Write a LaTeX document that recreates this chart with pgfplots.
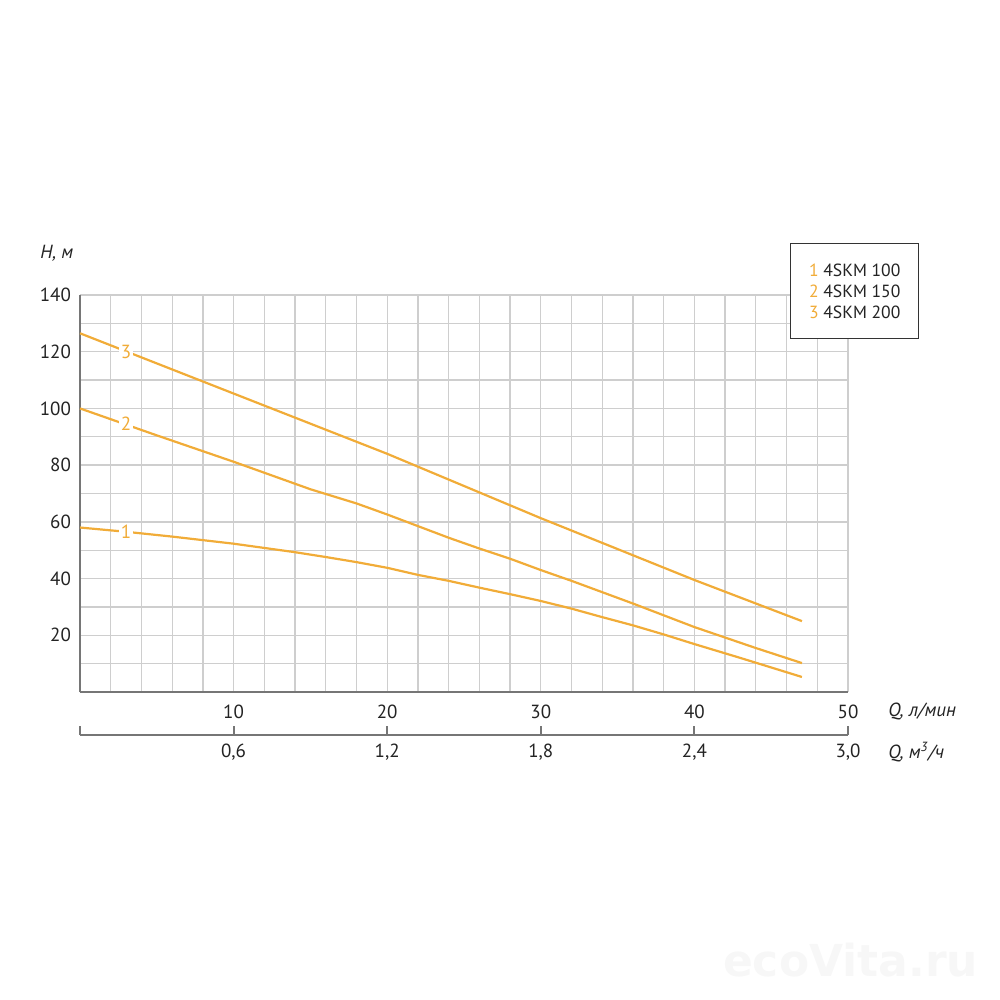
\documentclass[border=0pt]{standalone}
\usepackage{pgfplots}
\pgfplotsset{compat=1.18}
\usepackage{fontspec}
\setmainfont{PT Sans}
\newfontfamily\wmfont{DejaVu Sans}
\definecolor{curve}{RGB}{241,172,56}
\definecolor{gridgray}{RGB}{206,206,206}
\definecolor{axisgray}{RGB}{118,118,118}
\definecolor{textgray}{RGB}{35,35,35}
\begin{document}
\begin{tikzpicture}
\path (-40pt,-154pt) rectangle (460pt,346pt);
\begin{axis}[
  at={(0,0)}, anchor=south west,
  scale only axis, width=384pt, height=198.5pt,
  xmin=0, xmax=50, ymin=0, ymax=140,
  axis lines=left,
  axis line style={-, draw=axisgray, line width=1pt},
  xtick={10,20,30,40,50}, minor xtick={0,2,...,50},
  ytick={20,40,...,140}, minor ytick={0,10,...,140},
  grid=both,
  major grid style={draw=gridgray, line width=0.65pt},
  minor grid style={draw=gridgray, line width=0.65pt},
  major tick length=0pt, minor tick length=0pt,
  tick label style={font=\fontsize{9.5}{11}\selectfont, text=textgray},
  /pgf/number format/assume math mode=true,
  xticklabel style={yshift=-3pt},
  yticklabel style={xshift=-1pt},
  clip=false,
]
\addplot[curve, line width=1.1pt] coordinates {
 (0,58) (3,56.5) (6,54.8) (10,52.3) (12,50.8) (14,49.3) (16,47.6) (18,45.8) (20,43.8)
 (22,41.3) (24,39.2) (26,36.8) (28,34.5) (30,32.1) (32,29.4) (34,26.4) (36,23.5)
 (38,20.3) (40,16.9) (43,12) (47,5.3)};
\addplot[curve, line width=1.1pt] coordinates {
 (0,100) (5,90.5) (10,81.2) (15,71.5) (18,66.5) (20,62.6) (22,58.5) (24,54.4) (26,50.6)
 (28,47) (30,43) (32,39.2) (36,31.2) (40,22.9) (44,15.5) (47,10.2)};
\addplot[curve, line width=1.1pt] coordinates {
 (0,126.5) (20,84) (30,61.3) (40,39.5) (47,25)};
\node[fill=white, inner sep=1pt, text=curve, font=\fontsize{9.5}{11}\selectfont] at (axis cs:3,56.5) {1};
\node[fill=white, inner sep=1pt, text=curve, font=\fontsize{9.5}{11}\selectfont] at (axis cs:3,94.6) {2};
\node[fill=white, inner sep=1pt, text=curve, font=\fontsize{9.5}{11}\selectfont] at (axis cs:3,120) {3};
\node[anchor=west, inner xsep=0pt, font=\fontsize{9.5}{11}\selectfont\itshape, text=textgray] at (rel axis cs:-0.052,1.106) {H, м};
\node[anchor=west, inner xsep=0pt, font=\fontsize{9.5}{11}\selectfont\itshape, text=textgray] at (rel axis cs:1.052,-0.050) {Q, л/мин};
\node[anchor=west, inner xsep=0pt, font=\fontsize{9.5}{11}\selectfont\itshape, text=textgray] at (rel axis cs:1.052,-0.151) {Q, м\textsuperscript{3}/ч};
\node[draw=black!80, line width=0.7pt, fill=white, anchor=north west,
      minimum width=64pt, minimum height=47.5pt, align=left,
      font=\fontsize{8.8}{10.5}\selectfont, text=textgray]
  at (rel axis cs:0.9245,1.131)
  {{\color{curve}1} 4SKM 100\\{\color{curve}2} 4SKM 150\\{\color{curve}3} 4SKM 200};
\end{axis}
\begin{axis}[
  at={(0,-21.5pt)}, anchor=south west,
  scale only axis, width=384pt, height=10pt,
  xmin=0, xmax=3, ymin=0, ymax=1,
  axis x line=bottom, axis y line=none,
  axis line style={-, draw=axisgray, line width=1pt},
  xtick={0,0.6,1.2,1.8,2.4,3},
  xticklabels={{},{0,6},{1,2},{1,8},{2,4},{3,0}},
  tick align=inside, major tick length=4.5pt,
  tick style={draw=axisgray, line width=1pt},
  tick label style={font=\fontsize{9.5}{11}\selectfont, text=textgray},
  xticklabel style={yshift=-1pt},
]
\end{axis}
\node[anchor=west, font=\wmfont\bfseries\fontsize{22}{24}\selectfont, text=black!3] at (318pt,-134pt) {ecoVita.ru};
\end{tikzpicture}
\end{document}
